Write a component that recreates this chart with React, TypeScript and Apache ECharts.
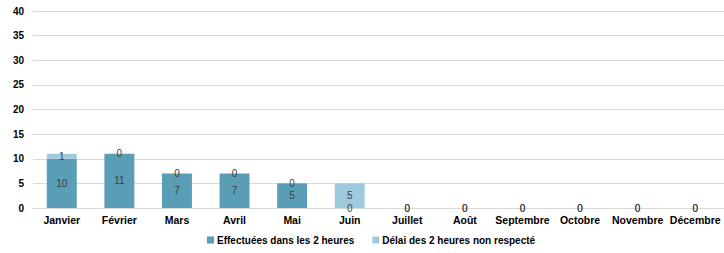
import React, { useEffect, useRef } from "react";
import * as echarts from "echarts";

const categories = ["Janvier", "Février", "Mars", "Avril", "Mai", "Juin", "Juillet", "Août", "Septembre", "Octobre", "Novembre", "Décembre"];
const effectuees = [10, 11, 7, 7, 5, 0, 0, 0, 0, 0, 0, 0];
const delai = [1, 0, 0, 0, 0, 5, 0, 0, 0, 0, 0, 0];
const yTicks = [0, 5, 10, 15, 20, 25, 30, 35, 40];

export default function App() {
  const ref = useRef<HTMLDivElement>(null);
  useEffect(() => {
    document.body.style.margin = "0";
    const chart = echarts.init(ref.current!, null, { renderer: "svg" });
    const font = "Liberation Sans, Arial, sans-serif";
    chart.setOption({
      animation: false,
      textStyle: { fontFamily: font },
      grid: { left: 33, right: -5, top: 11, bottom: 45 },
      legend: {
        bottom: 3,
        left: 202,
        itemWidth: 7,
        itemHeight: 7,
        itemGap: 18,
        icon: "rect",
        textStyle: { fontSize: 10, fontWeight: "bold", color: "#000", fontFamily: font, padding: [0, 0, 0, -2] },
        data: ["Effectuées dans les 2 heures", "Délai des 2 heures non respecté"],
      },
      xAxis: {
        type: "category",
        data: categories,
        axisTick: { show: false },
        axisLine: { lineStyle: { color: "#d9d9d9" } },
        axisLabel: { fontSize: 10.5, fontWeight: "bold", color: "#000", margin: 6, interval: 0 },
      },
      yAxis: {
        type: "value",
        min: 0,
        max: yTicks[yTicks.length - 1],
        interval: 5,
        axisLine: { show: false },
        axisTick: { show: false },
        splitLine: { lineStyle: { color: "#d9d9d9" } },
        axisLabel: { fontSize: 10, fontWeight: "bold", color: "#000", margin: 9 },
      },
      series: [
        {
          name: "Effectuées dans les 2 heures",
          type: "bar",
          stack: "a",
          data: effectuees,
          barWidth: "52%",
          itemStyle: { color: "#5a9db7" },
          label: { show: true, position: "inside", fontSize: 10, color: "#404040" },
        },
        {
          name: "Délai des 2 heures non respecté",
          type: "bar",
          stack: "a",
          data: delai,
          itemStyle: { color: "#9fcadd" },
          label: {
            show: true,
            position: "inside",
            fontSize: 10,
            color: "#404040",
          },
        },
      ],
    });
    return () => chart.dispose();
  }, []);
  return <div ref={ref} style={{ width: 724, height: 253 }} />;
}
